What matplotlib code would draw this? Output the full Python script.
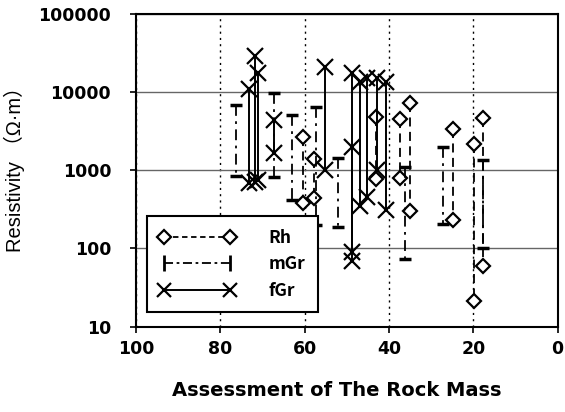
import matplotlib
matplotlib.use("Agg")
import matplotlib.pyplot as plt
from matplotlib.lines import Line2D

# --- data: each entry is (rock mass score, upper resistivity, lower resistivity)
rh_x = [60.3, 57.9, 43.0, 37.3, 35.0, 24.9, 19.9, 17.8]
rh_top = [2700, 1390, 4900, 4500, 7300, 3370, 2200, 4650]
rh_bot = [380, 440, 780, 790, 300, 230, 21, 60]

mgr_x = [76.3, 67.4, 63.0, 57.3, 52.0, 36.2, 27.2, 17.6]
mgr_top = [7000, 9800, 5200, 6600, 1430, 1100, 2000, 1360]
mgr_bot = [850, 830, 420, 200, 190, 74, 205, 100]

fgr_x = [73.3, 71.9, 71.1, 67.4, 55.1, 48.8, 48.8, 46.8, 45.2, 42.8, 40.8]
fgr_top = [11000, 29000, 17600, 4400, 21500, 17600, 2000, 13700, 15200, 15200, 13700]
fgr_bot = [700, 720, 760, 1660, 1000, 90, 70, 350, 460, 1000, 310]

x_ticks = [100, 80, 60, 40, 20, 0]
y_ticks = [10, 100, 1000, 10000, 100000]

plt.rcParams["font.family"] = ["DejaVu Sans", "Noto Sans CJK JP"]

fig = plt.figure(figsize=(5.65, 4.12), dpi=100)
ax = fig.add_axes([0.241, 0.2075, 0.746, 0.7575])

# --- series
for x, t, b in zip(rh_x, rh_top, rh_bot):
    ax.plot([x, x], [t, b], ls=(0, (5, 3)), color="black", lw=1.3,
            marker="D", ms=7.5, mfc="white", mec="black", mew=1.6, zorder=3)
for x, t, b in zip(mgr_x, mgr_top, mgr_bot):
    ax.plot([x, x], [t, b], ls=(0, (6, 3, 1.5, 3)), color="black", lw=1.3,
            marker="_", ms=9, mew=2.5, zorder=3)
for x, t, b in zip(fgr_x, fgr_top, fgr_bot):
    ax.plot([x, x], [t, b], ls="-", color="black", lw=1.4,
            marker="x", ms=11, mew=1.6, zorder=3)

# --- axes
ax.set_yscale("log")
ax.set_ylim(10, 100000)
ax.set_xlim(100, 0)
ax.set_xticks(x_ticks)
ax.set_yticks(y_ticks)
ax.set_yticklabels([str(v) for v in y_ticks])
ax.minorticks_off()
ax.tick_params(labelsize=12.5, length=4, width=1.2, direction="out")
ax.tick_params(axis="x", pad=6)
ax.tick_params(axis="y", pad=14)
for lab in ax.get_xticklabels() + ax.get_yticklabels():
    lab.set_fontweight("bold")

ax.yaxis.grid(True, color="#666666", lw=1.0)
ax.xaxis.grid(True, color="black", lw=1.0, ls=(0, (1.5, 3)))
ax.set_axisbelow(True)
for s in ax.spines.values():
    s.set_linewidth(1.5)

ax.set_xlabel("Assessment of The Rock Mass", fontsize=14, fontweight="bold", labelpad=16)
ax.xaxis.label.set_x(0.475)
ax.set_ylabel("Resistivity （Ω·m）", fontsize=14.5, labelpad=10,
              family=["Liberation Sans", "Noto Sans CJK JP"])
ax.yaxis.label.set_y(0.52)

# --- legend
handles = [
    Line2D([], [], ls=(0, (3, 2)), color="black", lw=1.3, marker="D", ms=7.5,
           mfc="white", mec="black", mew=1.6),
    Line2D([], [], ls=(0, (5, 2, 1.5, 2)), color="black", lw=1.3, marker="|",
           ms=11, mew=2),
    Line2D([], [], ls="-", color="black", lw=1.4, marker="x", ms=10, mew=1.6),
]
leg = ax.legend(handles, ["Rh", "mGr", "fGr"], loc="lower left",
                bbox_to_anchor=(0.026, 0.046), borderaxespad=0, numpoints=2,
                handlelength=4.4, fancybox=False, framealpha=1, edgecolor="black",
                borderpad=0.7, labelspacing=0.5, handletextpad=1.9,
                prop={"family": ["Noto Sans CJK JP", "DejaVu Sans"],
                      "weight": "bold", "size": 12.5})
leg.get_frame().set_linewidth(1.5)
leg.set_zorder(5)

fig.savefig("out.png", dpi=100)
